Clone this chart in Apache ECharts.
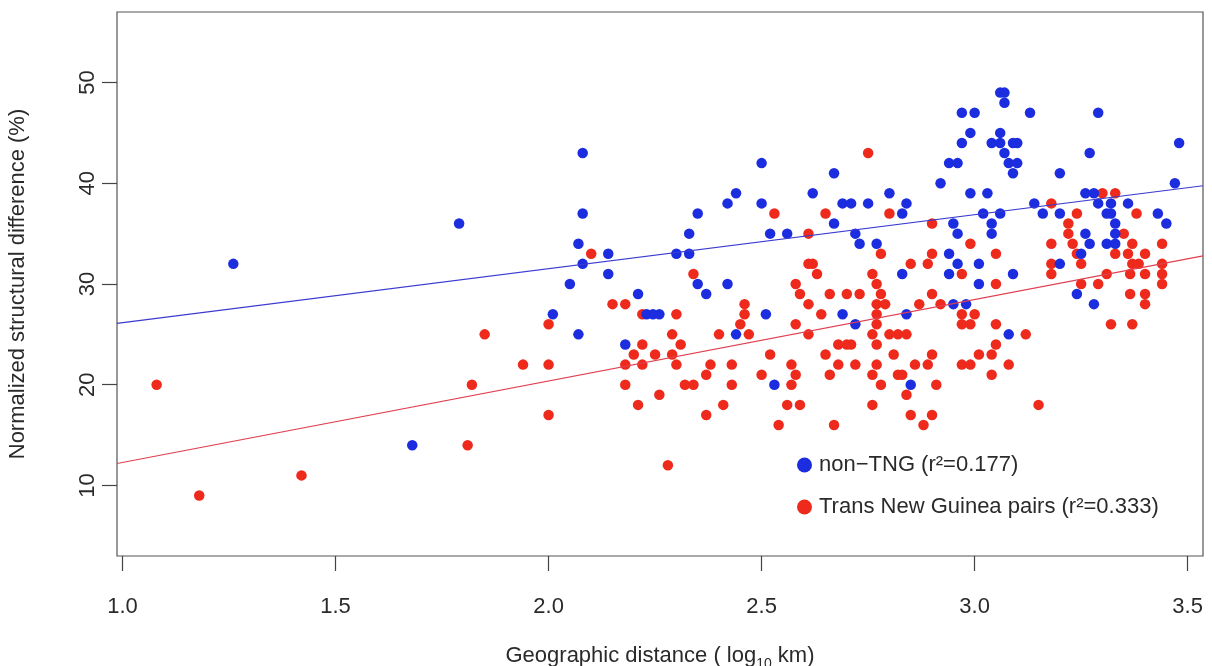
<!DOCTYPE html>
<html>
<head>
<meta charset="utf-8">
<script src="https://cdn.jsdelivr.net/npm/echarts@6/dist/echarts.min.js"></script>
<style>
html,body{margin:0;padding:0;background:#fff;}
#chart{width:1212px;height:666px;}
</style>
</head>
<body>
<div id="chart"></div>
<script>
// ---- tick labels ----
var xTicks = [1.0, 1.5, 2.0, 2.5, 3.0, 3.5];
var xTickLabels = ['1.0', '1.5', '2.0', '2.5', '3.0', '3.5'];
var yTicks = [10, 20, 30, 40, 50];

// ---- legend / series names ----
var seriesNames = ['non\u2212TNG (r\u00b2=0.177)', 'Trans New Guinea pairs (r\u00b2=0.333)'];

// ---- non-TNG pairs [log10 km, %] ----
var nonTngPoints = [
  [1.26,32],[1.79,36],[1.68,14],[2.08,43],[2.08,37],[2.07,34],[2.08,32],[2.05,30],
  [2.14,33],[2.14,31],[2.21,29],[2.30,33],[2.33,33],[2.33,35],[2.35,37],[2.35,30],
  [2.37,29],[2.42,30],[2.42,38],[2.44,39],[2.50,42],[2.50,38],[2.52,35],[2.56,35],
  [2.62,39],[2.67,41],[2.67,36],[2.69,38],[2.71,38],[2.75,38],[2.72,35],[2.73,34],
  [2.77,34],[2.80,39],[2.83,37],[2.84,38],[2.83,31],[2.01,27],[2.07,25],[2.23,27],
  [2.245,27],[2.26,27],[2.18,24],[2.44,25],[2.51,27],[2.53,20],[2.69,27],[2.72,26],
  [2.84,27],[2.85,20],[3.06,49],[3.07,49],[3.07,48],[2.97,47],[3.00,47],[3.13,47],
  [3.29,47],[2.99,45],[3.06,45],[2.97,44],[3.04,44],[3.06,44],[3.09,44],[3.10,44],
  [3.07,43],[3.08,42],[3.10,42],[3.09,41],[2.94,42],[2.96,42],[2.92,40],[3.20,41],
  [2.99,39],[3.03,39],[3.02,37],[3.06,37],[2.95,36],[2.96,35],[3.04,36],[3.04,35],
  [3.14,38],[3.16,37],[3.20,37],[3.26,39],[3.28,39],[3.29,38],[3.32,38],[3.31,37],
  [3.32,37],[3.33,36],[3.33,35],[3.26,35],[3.27,34],[3.31,34],[3.33,34],[3.36,38],
  [3.43,37],[3.45,36],[3.47,40],[3.48,44],[3.25,33],[3.20,32],[3.24,29],[3.28,28],
  [3.27,43],[2.94,33],[2.96,32],[2.94,31],[3.01,32],[3.01,30],[3.09,31],[2.95,28],
  [2.98,28],[3.08,25]
];

// ---- Trans New Guinea pairs [log10 km, %] ----
var tngPoints = [
  [1.08,20],[1.18,9],[1.42,11],[1.81,14],[1.82,20],[1.85,25],[2.10,33],[2.34,31],
  [2.53,37],[2.75,43],[2.65,37],[2.61,35],[2.80,37],[2.78,33],[2.61,32],[2.62,32],
  [2.63,31],[2.76,31],[2.77,30],[2.58,30],[2.59,29],[2.66,29],[2.70,29],[2.73,29],
  [2.78,29],[2.15,28],[2.18,28],[2.00,26],[2.22,27],[2.30,27],[1.94,22],[2.00,22],
  [2.00,17],[2.29,25],[2.31,24],[2.22,24],[2.20,23],[2.25,23],[2.29,23],[2.30,22],
  [2.18,22],[2.22,22],[2.18,20],[2.26,19],[2.21,18],[2.28,12],[2.40,25],[2.46,28],
  [2.46,27],[2.45,26],[2.47,25],[2.38,22],[2.37,21],[2.32,20],[2.34,20],[2.43,22],
  [2.43,20],[2.41,18],[2.37,17],[2.52,23],[2.50,21],[2.57,22],[2.58,21],[2.57,20],
  [2.56,18],[2.59,18],[2.54,16],[2.58,26],[2.61,25],[2.61,28],[2.64,27],[2.65,23],
  [2.68,24],[2.70,24],[2.71,24],[2.68,22],[2.72,22],[2.66,21],[2.67,16],[2.76,18],
  [2.78,20],[2.77,28],[2.79,28],[2.77,27],[2.77,26],[2.76,25],[2.80,25],[2.82,25],
  [2.84,25],[2.77,24],[2.81,23],[2.77,22],[2.76,21],[2.82,21],[2.83,21],[2.90,36],
  [3.18,38],[3.22,36],[3.22,35],[2.99,34],[3.18,34],[3.23,34],[3.24,37],[3.30,39],
  [3.33,39],[3.38,37],[3.24,33],[3.25,32],[3.18,32],[3.18,31],[3.35,35],[3.37,34],
  [3.33,33],[3.36,33],[3.37,32],[3.385,32],[3.365,31],[3.40,33],[3.44,34],[3.44,32],
  [3.44,31],[3.44,30],[3.40,31],[3.31,31],[3.29,30],[3.25,30],[3.365,29],[3.40,29],
  [3.40,28],[3.32,26],[3.37,26],[2.85,32],[2.89,32],[2.90,33],[2.97,31],[3.05,33],
  [3.05,30],[2.84,19],[2.85,17],[2.88,16],[2.90,17],[2.86,22],[2.89,22],[2.90,23],
  [2.87,28],[2.90,29],[2.92,28],[2.91,20],[2.97,27],[3.00,27],[2.97,26],[2.99,26],
  [2.97,22],[2.99,22],[3.01,23],[3.04,21],[3.05,26],[3.05,24],[3.04,23],[3.08,22],
  [3.12,25],[3.15,18]
];

// ---- fitted regression lines (endpoints) ----
var nonTngFit = [[0.987, 26.09], [3.536, 39.75]];
var tngFit = [[0.987, 12.18], [3.536, 32.80]];

var BLUE = '#1c2de0', RED = '#ee2a1c';
var FONT = '"Liberation Sans", Arial, Helvetica, sans-serif';
var TXT = '#2a2a2a';

var chart = echarts.init(document.getElementById('chart'), null, {renderer: 'canvas'});
chart.setOption({
  animation: false,
  backgroundColor: '#ffffff',
  grid: {
    left: 117, right: 9, top: 12, bottom: 110,
    outerBoundsMode: 'none',
    containLabel: false,
    show: true, borderColor: '#555555', borderWidth: 1.2, backgroundColor: 'transparent'
  },
  legend: {
    data: seriesNames.map(function (n) { return {name: n, icon: 'circle'}; }),
    orient: 'vertical',
    left: 797, top: 454,
    padding: 0,
    itemWidth: 15, itemHeight: 15, itemGap: 20,
    selectedMode: false,
    textStyle: {fontFamily: FONT, fontSize: 22, color: TXT, lineHeight: 22, padding: [0, 0, 0, 2]}
  },
  xAxis: {
    type: 'value',
    min: 0.987, max: 3.536,
    axisLine: {show: false},
    splitLine: {show: false},
    axisTick: {show: true, length: 15, customValues: xTicks, lineStyle: {color: '#444', width: 1.2}},
    axisLabel: {
      customValues: xTicks,
      margin: 40,
      fontFamily: FONT, fontSize: 22, color: TXT, lineHeight: 22,
      formatter: function (v) {
        for (var i = 0; i < xTicks.length; i++) { if (Math.abs(xTicks[i] - v) < 1e-6) return xTickLabels[i]; }
        return '';
      }
    },
    name: 'Geographic distance ( log{sub|10} km)',
    nameLocation: 'middle',
    nameGap: 85,
    nameTextStyle: {
      fontFamily: FONT, fontSize: 22, color: TXT, lineHeight: 30,
      rich: {sub: {fontFamily: FONT, fontSize: 14, color: TXT, lineHeight: 14, verticalAlign: 'bottom'}}
    }
  },
  yAxis: {
    type: 'value',
    min: 3, max: 57,
    axisLine: {show: false},
    splitLine: {show: false},
    axisTick: {show: true, length: 15, customValues: yTicks, lineStyle: {color: '#444', width: 1.2}},
    axisLabel: {
      customValues: yTicks,
      rotate: 90,
      margin: 18,
      fontFamily: FONT, fontSize: 22, color: TXT, lineHeight: 22
    },
    name: 'Normalized structural difference (%)',
    nameLocation: 'middle',
    nameRotate: 90,
    nameGap: 88,
    nameTextStyle: {fontFamily: FONT, fontSize: 22, color: TXT, lineHeight: 22}
  },
  series: [
    {
      name: seriesNames[1], type: 'scatter', data: tngPoints,
      symbol: 'circle', symbolSize: 10.5, z: 2,
      itemStyle: {color: RED, opacity: 1}, emphasis: {disabled: true}
    },
    {
      name: seriesNames[0], type: 'scatter', data: nonTngPoints,
      symbol: 'circle', symbolSize: 10.5, z: 3,
      itemStyle: {color: BLUE, opacity: 1}, emphasis: {disabled: true}
    },
    {
      name: 'non-TNG fit', type: 'line', data: nonTngFit, showSymbol: false, symbol: 'none', z: 4,
      lineStyle: {color: '#3a3ad0', width: 1.2}, silent: true
    },
    {
      name: 'TNG fit', type: 'line', data: tngFit, showSymbol: false, symbol: 'none', z: 4,
      lineStyle: {color: '#e04050', width: 1.2}, silent: true
    }
  ]
});
</script>
</body>
</html>
